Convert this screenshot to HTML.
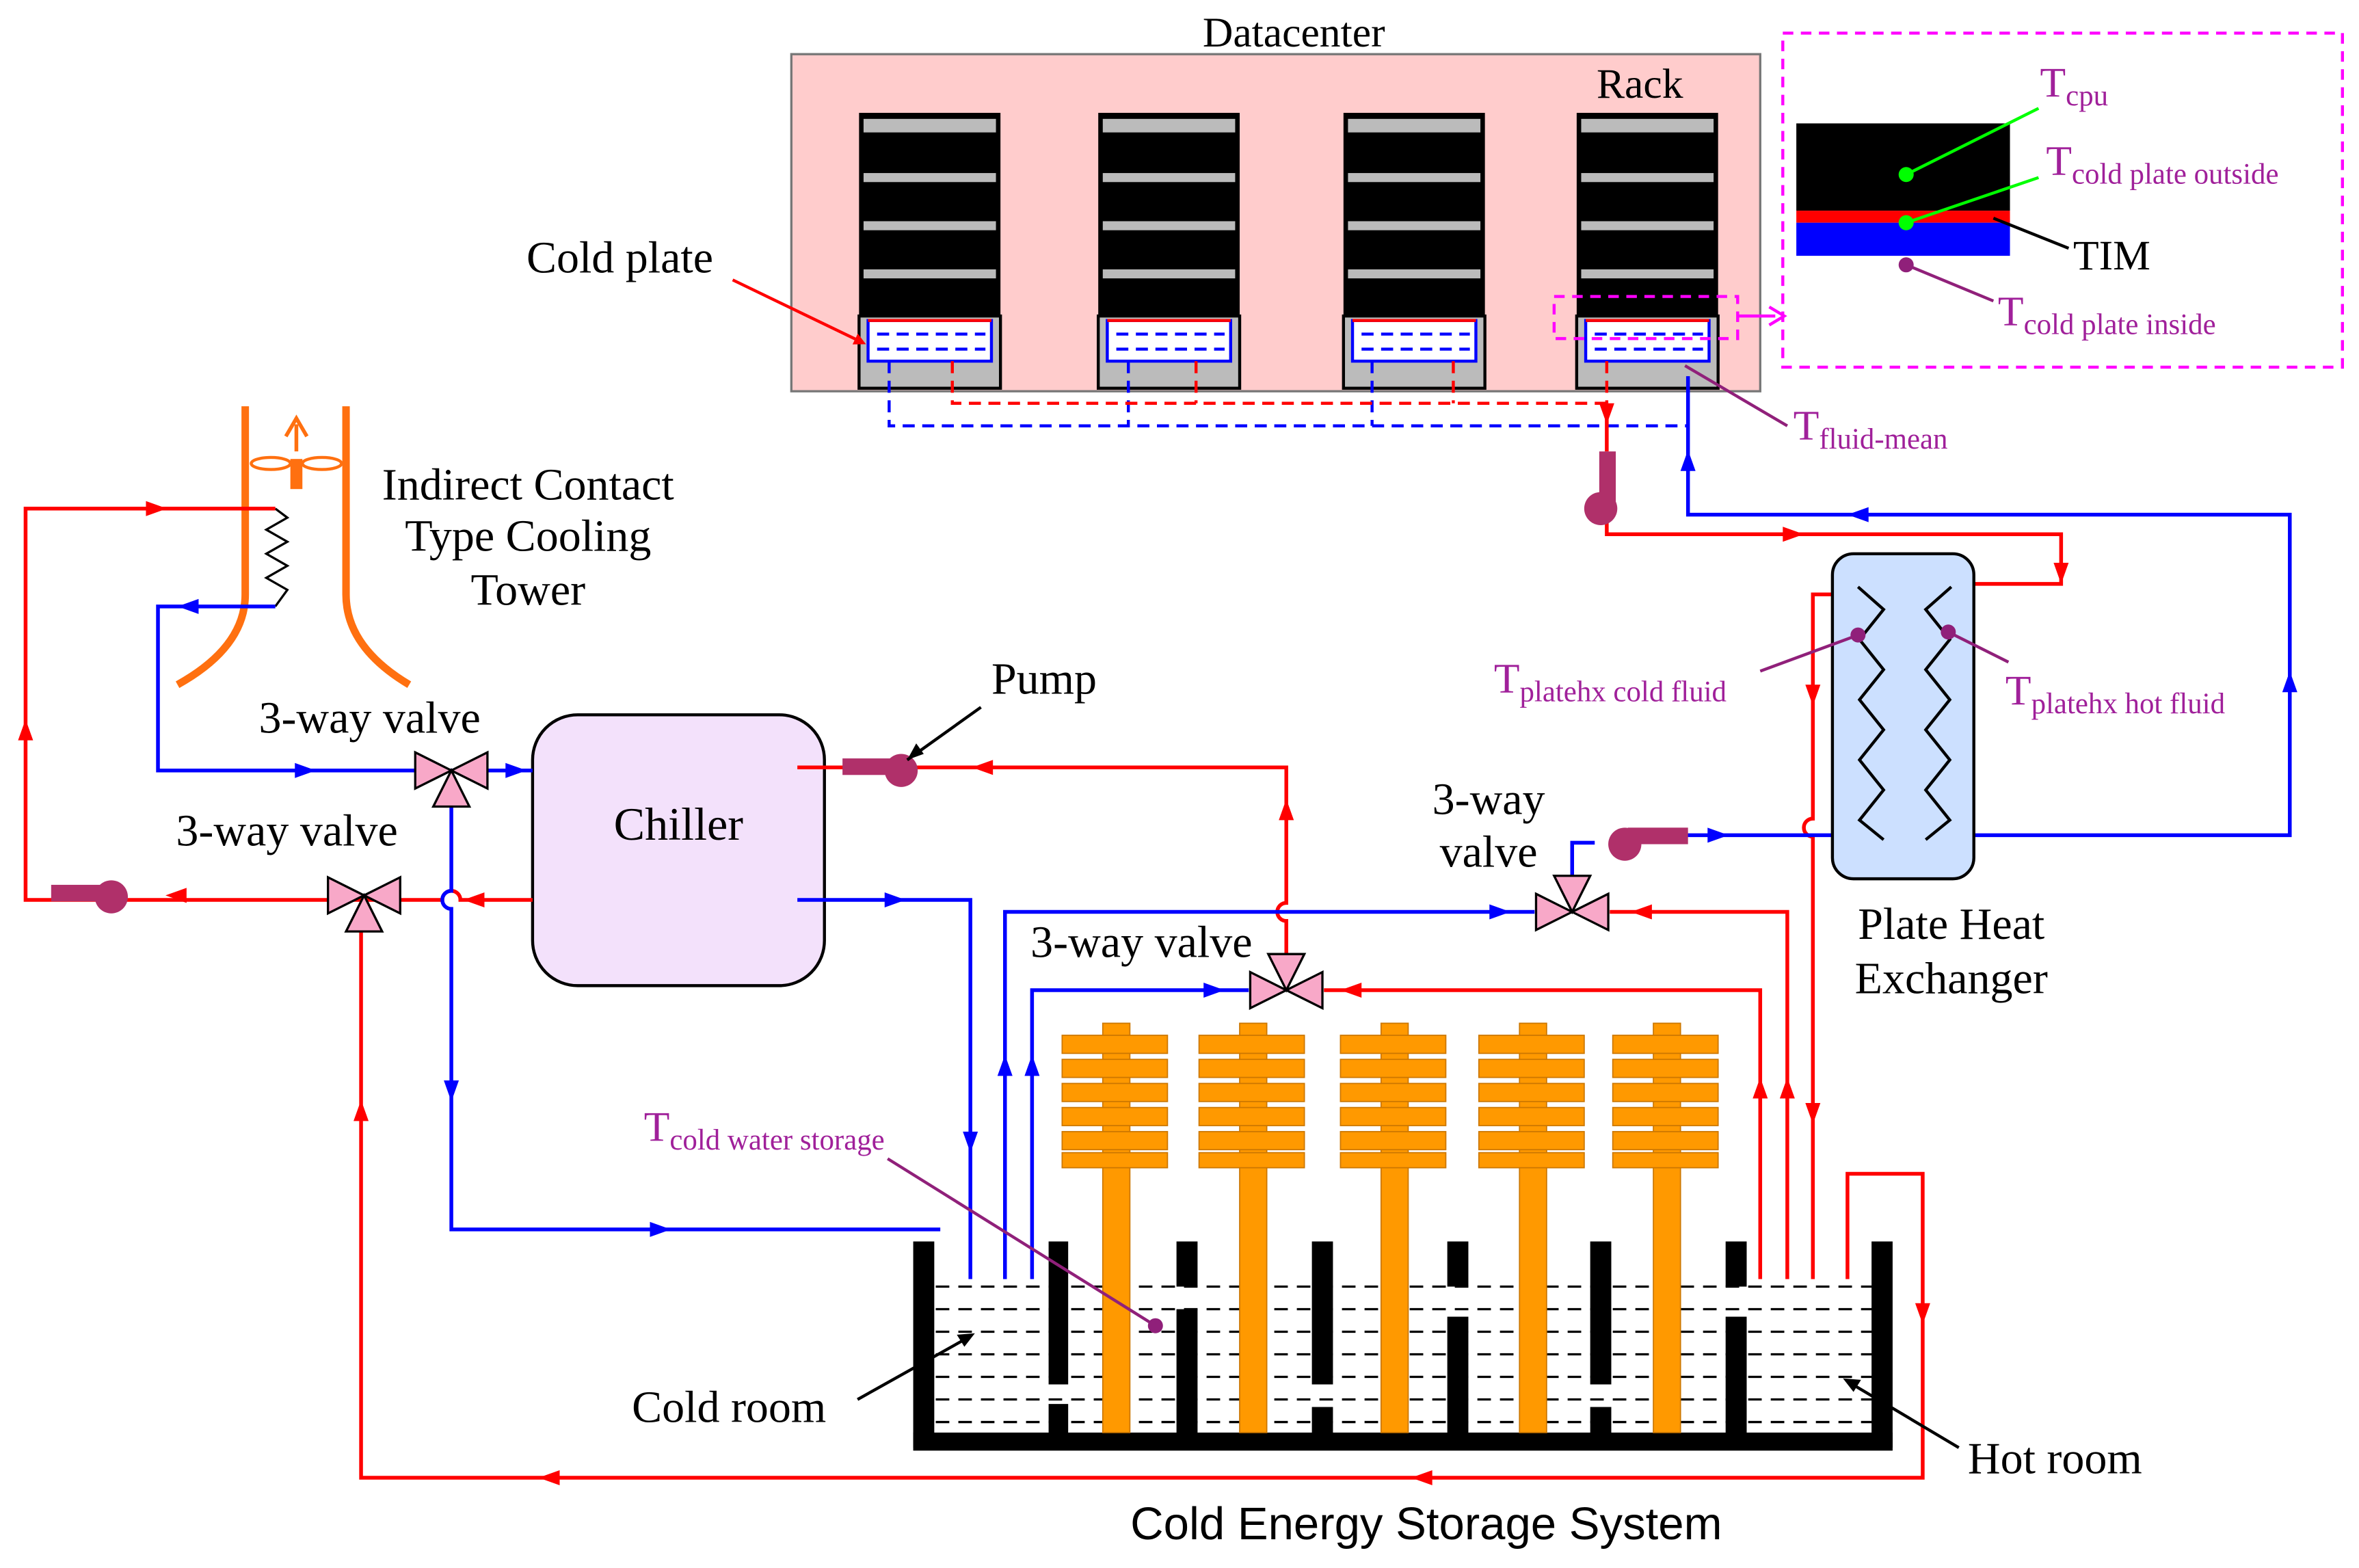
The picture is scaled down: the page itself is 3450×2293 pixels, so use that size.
<!DOCTYPE html>
<html><head><meta charset="utf-8"><style>
html,body{margin:0;padding:0;background:#fff}
svg{display:block}
text{font-family:"Liberation Serif",serif}
</style></head><body>
<svg width="3450" height="2293" viewBox="0 0 1568 1042" preserveAspectRatio="none" xmlns="http://www.w3.org/2000/svg">
<defs>
<marker id="ar" markerWidth="8" markerHeight="8" refX="4" refY="4" orient="auto" markerUnits="userSpaceOnUse"><path d="M0,0 L8,4 L0,8 z" fill="red"/></marker>
</defs>
<!-- Datacenter -->
<text x="860" y="31" font-size="28" text-anchor="middle">Datacenter</text>
<rect x="526" y="36" width="644" height="224" fill="#ffcccc" stroke="#777" stroke-width="1.5"/>
<text x="1090" y="65" font-size="28" text-anchor="middle">Rack</text>
<g transform="translate(571,0)">
<rect x="0" y="75" width="94" height="137" fill="#000"/>
<rect x="3" y="79" width="88" height="9" fill="#bbb"/><rect x="3" y="115" width="88" height="6" fill="#bbb"/><rect x="3" y="147" width="88" height="6" fill="#bbb"/><rect x="3" y="179" width="88" height="6" fill="#bbb"/>
<rect x="0" y="210" width="94" height="48" fill="#bbb" stroke="#000" stroke-width="2"/>
<rect x="6" y="213" width="82" height="27" fill="#fff" stroke="#00f" stroke-width="2"/>
<line x1="6" y1="213" x2="88" y2="213" stroke="red" stroke-width="2"/>
<line x1="12" y1="222" x2="84" y2="222" stroke="#00f" stroke-width="2" stroke-dasharray="8,5"/>
<line x1="12" y1="232" x2="84" y2="232" stroke="#00f" stroke-width="2" stroke-dasharray="8,5"/>
</g>
<g transform="translate(730,0)">
<rect x="0" y="75" width="94" height="137" fill="#000"/>
<rect x="3" y="79" width="88" height="9" fill="#bbb"/><rect x="3" y="115" width="88" height="6" fill="#bbb"/><rect x="3" y="147" width="88" height="6" fill="#bbb"/><rect x="3" y="179" width="88" height="6" fill="#bbb"/>
<rect x="0" y="210" width="94" height="48" fill="#bbb" stroke="#000" stroke-width="2"/>
<rect x="6" y="213" width="82" height="27" fill="#fff" stroke="#00f" stroke-width="2"/>
<line x1="6" y1="213" x2="88" y2="213" stroke="red" stroke-width="2"/>
<line x1="12" y1="222" x2="84" y2="222" stroke="#00f" stroke-width="2" stroke-dasharray="8,5"/>
<line x1="12" y1="232" x2="84" y2="232" stroke="#00f" stroke-width="2" stroke-dasharray="8,5"/>
</g>
<g transform="translate(893,0)">
<rect x="0" y="75" width="94" height="137" fill="#000"/>
<rect x="3" y="79" width="88" height="9" fill="#bbb"/><rect x="3" y="115" width="88" height="6" fill="#bbb"/><rect x="3" y="147" width="88" height="6" fill="#bbb"/><rect x="3" y="179" width="88" height="6" fill="#bbb"/>
<rect x="0" y="210" width="94" height="48" fill="#bbb" stroke="#000" stroke-width="2"/>
<rect x="6" y="213" width="82" height="27" fill="#fff" stroke="#00f" stroke-width="2"/>
<line x1="6" y1="213" x2="88" y2="213" stroke="red" stroke-width="2"/>
<line x1="12" y1="222" x2="84" y2="222" stroke="#00f" stroke-width="2" stroke-dasharray="8,5"/>
<line x1="12" y1="232" x2="84" y2="232" stroke="#00f" stroke-width="2" stroke-dasharray="8,5"/>
</g>
<g transform="translate(1048,0)">
<rect x="0" y="75" width="94" height="137" fill="#000"/>
<rect x="3" y="79" width="88" height="9" fill="#bbb"/><rect x="3" y="115" width="88" height="6" fill="#bbb"/><rect x="3" y="147" width="88" height="6" fill="#bbb"/><rect x="3" y="179" width="88" height="6" fill="#bbb"/>
<rect x="0" y="210" width="94" height="48" fill="#bbb" stroke="#000" stroke-width="2"/>
<rect x="6" y="213" width="82" height="27" fill="#fff" stroke="#00f" stroke-width="2"/>
<line x1="6" y1="213" x2="88" y2="213" stroke="red" stroke-width="2"/>
<line x1="12" y1="222" x2="84" y2="222" stroke="#00f" stroke-width="2" stroke-dasharray="8,5"/>
<line x1="12" y1="232" x2="84" y2="232" stroke="#00f" stroke-width="2" stroke-dasharray="8,5"/>
</g>
<!-- rack piping -->
<g fill="none" stroke-width="2" stroke-dasharray="8,5">
<path d="M591,240 V283 H1122 M750,240 V283 M912,240 V283" stroke="#00f"/>
<path d="M633,240 V268 H1068 M795,240 V268 M966,240 V268 M1068,240 V268" stroke="red"/>
</g>
<!-- magenta -->
<rect x="1033" y="197" width="122" height="28" fill="none" stroke="#f0f" stroke-width="2" stroke-dasharray="7,5"/>
<path d="M1155,210 H1180" stroke="#f0f" stroke-width="2"/><path d="M1176,204 L1186,210 L1176,216" fill="none" stroke="#f0f" stroke-width="2"/>
<rect x="1185" y="22" width="372" height="222" fill="none" stroke="#f0f" stroke-width="2" stroke-dasharray="7,5"/>
<rect x="1194" y="82" width="142" height="58" fill="#000"/>
<rect x="1194" y="140" width="142" height="8" fill="red"/>
<rect x="1194" y="148" width="142" height="22" fill="#00f"/>
<line x1="1267" y1="116" x2="1355" y2="72" stroke="#0f0" stroke-width="2"/>
<line x1="1267" y1="148" x2="1355" y2="118" stroke="#0f0" stroke-width="2"/>
<line x1="1325" y1="145" x2="1375" y2="165" stroke="#000" stroke-width="2"/>
<line x1="1267" y1="176" x2="1325" y2="200" stroke="#90207a" stroke-width="2"/>
<circle cx="1267" cy="116" r="5" fill="#0f0"/><circle cx="1267" cy="148" r="5" fill="#0f0"/><circle cx="1267" cy="176" r="5" fill="#90207a"/>
<g fill="#a0209a">
<text x="1356" y="64" font-size="28">T<tspan font-size="19.5" dy="6">cpu</tspan></text>
<text x="1360" y="116" font-size="28">T<tspan font-size="19.5" dy="6">cold plate outside</tspan></text>
<text x="1328" y="216" font-size="28">T<tspan font-size="19.5" dy="6">cold plate inside</tspan></text>
<text x="1192" y="292" font-size="28">T<tspan font-size="19.5" dy="6">fluid-mean</tspan></text>
<text x="993" y="460" font-size="28">T<tspan font-size="19.5" dy="6">platehx cold fluid</tspan></text>
<text x="1333" y="468" font-size="28">T<tspan font-size="19.5" dy="6">platehx hot fluid</tspan></text>
<text x="428" y="758" font-size="28">T<tspan font-size="19.5" dy="6">cold water storage</tspan></text>
</g>
<text x="1378" y="179" font-size="28">TIM</text>
<line x1="1120" y1="243" x2="1188" y2="283" stroke="#90207a" stroke-width="2"/>
<!-- cold plate label -->
<text x="412" y="181" font-size="30" text-anchor="middle">Cold plate</text>
<line x1="487" y1="186" x2="572" y2="227" stroke="red" stroke-width="2" marker-end="url(#ar)"/>
<!-- cooling tower -->
<g fill="none" stroke="#ff7010" stroke-width="5">
<path d="M163,270 V395 Q163,430 118,455"/>
<path d="M230,270 V395 Q230,430 272,455"/>
</g>
<rect x="193" y="305" width="8" height="20" fill="#ff7010"/>
<ellipse cx="180" cy="308" rx="13" ry="4" fill="none" stroke="#ff7010" stroke-width="2"/>
<ellipse cx="214" cy="308" rx="13" ry="4" fill="none" stroke="#ff7010" stroke-width="2"/>
<path d="M197,300 V282 M190,290 L197,278 L204,290" fill="none" stroke="#ff7010" stroke-width="2.5"/>
<path d="M183,338 L191,344 L177,352 L191,360 L177,368 L191,376 L177,384 L191,392 L183,403" fill="none" stroke="#000" stroke-width="1.5"/>
<text x="351" y="332" font-size="30" text-anchor="middle">Indirect Contact</text>
<text x="351" y="366" font-size="30" text-anchor="middle">Type Cooling</text>
<text x="351" y="402" font-size="30" text-anchor="middle">Tower</text>
<!-- chiller -->
<rect x="354" y="475" width="194" height="180" rx="30" fill="#f3e1fb" stroke="#000" stroke-width="2"/>
<text x="451" y="558" font-size="31" text-anchor="middle">Chiller</text>
<!-- red pipes -->
<g fill="none" stroke="red" stroke-width="2.5">
<path d="M354,598 H306 A6,6 0 0 0 294,598 H17 V338 H183"/>
<path d="M240,612 V982 H1278 V780 H1228 V850"/>
<path d="M855,640 V612 A6,6 0 0 1 855,600 V510 H530"/>
<path d="M880,658 H1170 V850"/>
<path d="M1070,606 H1188 V850"/>
<path d="M1240,395 H1205 V544 A6,6 0 0 0 1205,556 V850"/>
<path d="M1068,268 V300 M1068,340 V355 H1370 V388 H1297"/>
</g>
<g fill="red">
<path d="M97,333 L111,338 L97,343z"/><path d="M12,492 L17,478 L22,492z"/>
<path d="M124,590 L110,595 L124,600z"/><path d="M322,593 L308,598 L322,603z"/>
<path d="M235,745 L240,731 L245,745z"/><path d="M372,977 L358,982 L372,987z"/><path d="M952,977 L938,982 L952,987z"/>
<path d="M1273,866 L1278,880 L1283,866z"/>
<path d="M660,505 L646,510 L660,515z"/><path d="M850,545 L855,531 L860,545z"/>
<path d="M905,653 L891,658 L905,663z"/><path d="M1165,730 L1170,716 L1175,730z"/>
<path d="M1098,601 L1084,606 L1098,611z"/><path d="M1183,730 L1188,716 L1193,730z"/>
<path d="M1200,455 L1205,469 L1210,455z"/><path d="M1200,733 L1205,747 L1210,733z"/>
<path d="M1063,268 L1068,282 L1073,268z"/><path d="M1185,350 L1199,355 L1185,360z"/><path d="M1365,374 L1370,388 L1375,374z"/>
</g>
<!-- blue pipes -->
<g fill="none" stroke="#00f" stroke-width="2.5">
<path d="M183,403 H105 V512 H354"/>
<path d="M300,530 V592 A6,6 0 0 0 300,604 V817 H625"/>
<path d="M530,598 H645 V850"/>
<path d="M1020,606 H668 V850"/>
<path d="M830,658 H686 V850"/>
<path d="M1240,555 H1100 M1060,560 H1045 V588"/>
<path d="M1312,555 H1522 V342 H1122 V250"/>
</g>
<g fill="#00f">
<path d="M118,398 L132,403 L118,408z" transform="rotate(180,125,403)"/>
<path d="M196,507 L210,512 L196,517z"/><path d="M336,507 L350,512 L336,517z"/>
<path d="M295,718 L300,732 L305,718z"/><path d="M432,812 L446,817 L432,822z"/>
<path d="M588,593 L602,598 L588,603z"/><path d="M640,752 L645,766 L650,752z"/>
<path d="M990,601 L1004,606 L990,611z"/><path d="M663,715 L668,701 L673,715z"/>
<path d="M800,653 L814,658 L800,663z"/><path d="M681,715 L686,701 L691,715z"/>
<path d="M1135,550 L1149,555 L1135,560z"/>
<path d="M1517,460 L1522,446 L1527,460z"/><path d="M1242,337 L1228,342 L1242,347z"/><path d="M1117,313 L1122,299 L1127,313z"/>
</g>
<!-- pumps -->
<g fill="#b0306a">
<rect x="34" y="588" width="38" height="11"/><circle cx="74" cy="596" r="11"/>
<rect x="560" y="504" width="38" height="11"/><circle cx="599" cy="512" r="11"/>
<rect x="1063" y="300" width="11" height="38"/><circle cx="1064" cy="338" r="11"/>
<rect x="1082" y="550" width="40" height="11"/><circle cx="1080" cy="561" r="11"/>
</g>
<!-- valves -->
<g fill="#f8a8c8" stroke="#000" stroke-width="1.5">
<path d="M276,500 L300,512 L276,524z M324,500 L300,512 L324,524z M288,536 L300,512 L312,536z"/>
<path d="M218,583 L242,595 L218,607z M266,583 L242,595 L266,607z M230,619 L242,595 L254,619z"/>
<path d="M831,646 L855,658 L831,670z M879,646 L855,658 L879,670z M843,634 L855,658 L867,634z"/>
<path d="M1021,594 L1045,606 L1021,618z M1069,594 L1045,606 L1069,618z M1033,582 L1045,606 L1057,582z"/>
</g>
<g font-size="30">
<text x="172" y="487">3-way valve</text>
<text x="117" y="562">3-way valve</text>
<text x="685" y="636">3-way valve</text>
<text x="952" y="541">3-way</text><text x="957" y="576">valve</text>
<text x="659" y="461">Pump</text>
<text x="1297" y="624" text-anchor="middle">Plate Heat</text>
<text x="1297" y="660" text-anchor="middle">Exchanger</text>
<text x="420" y="945">Cold room</text>
<text x="1308" y="979">Hot room</text>
</g>
<line x1="652" y1="470" x2="603" y2="505" stroke="#000" stroke-width="2"/><path d="M603,505 L609,494 L614,501z" fill="#000"/>
<!-- PHE -->
<rect x="1218" y="368" width="94" height="216" rx="14" fill="#cce0ff" stroke="#000" stroke-width="2"/>
<g fill="none" stroke="#000" stroke-width="2">
<path d="M1235,390 L1252,405 L1236,425 L1252,445 L1236,465 L1252,485 L1236,505 L1252,525 L1236,545 L1252,558"/>
<path d="M1297,390 L1280,405 L1296,425 L1280,445 L1296,465 L1280,485 L1296,505 L1280,525 L1296,545 L1280,558"/>
</g>
<line x1="1170" y1="446" x2="1235" y2="422" stroke="#90207a" stroke-width="2"/>
<line x1="1295" y1="420" x2="1335" y2="440" stroke="#90207a" stroke-width="2"/>
<circle cx="1235" cy="422" r="5" fill="#90207a"/><circle cx="1295" cy="420" r="5" fill="#90207a"/>
<!-- tank -->
<g stroke="#000" stroke-width="1.5" stroke-dasharray="9,6">
<line x1="622" y1="855" x2="1245" y2="855"/><line x1="622" y1="870" x2="1245" y2="870"/>
<line x1="622" y1="885" x2="1245" y2="885"/><line x1="622" y1="900" x2="1245" y2="900"/>
<line x1="622" y1="915" x2="1245" y2="915"/><line x1="622" y1="930" x2="1245" y2="930"/>
<line x1="622" y1="945" x2="1245" y2="945"/>
</g>
<g fill="#000">
<rect x="607" y="825" width="14" height="137"/><rect x="607" y="952" width="651" height="12"/><rect x="1244" y="825" width="14" height="137"/>
<rect x="697" y="825" width="13" height="95"/><rect x="697" y="933" width="13" height="20"/>
<rect x="782" y="825" width="14" height="30"/><rect x="782" y="870" width="14" height="83"/>
<rect x="872" y="825" width="14" height="95"/><rect x="872" y="935" width="14" height="18"/>
<rect x="962" y="825" width="14" height="30"/><rect x="962" y="875" width="14" height="78"/>
<rect x="1057" y="825" width="14" height="95"/><rect x="1057" y="935" width="14" height="18"/>
<rect x="1147" y="825" width="14" height="30"/><rect x="1147" y="875" width="14" height="78"/>
</g>
<g fill="#ff9900" stroke="#cc7700" stroke-width="0.8">
<g id="f1"><rect x="733" y="680" width="18" height="272"/>
<rect x="706" y="688" width="70" height="12"/><rect x="706" y="704" width="70" height="12"/><rect x="706" y="720" width="70" height="12"/><rect x="706" y="736" width="70" height="12"/><rect x="706" y="752" width="70" height="12"/><rect x="706" y="766" width="70" height="10"/></g>
<use href="#f1" x="91"/><use href="#f1" x="185"/><use href="#f1" x="277"/><use href="#f1" x="366"/>
</g>
<line x1="590" y1="770" x2="768" y2="881" stroke="#90207a" stroke-width="2"/><circle cx="768" cy="881" r="5" fill="#90207a"/>
<line x1="570" y1="930" x2="645" y2="888" stroke="#000" stroke-width="2"/><path d="M648,886 L636,887 L641,895z" fill="#000"/>
<line x1="1302" y1="962" x2="1228" y2="918" stroke="#000" stroke-width="2"/><path d="M1225,916 L1237,917 L1232,925z" fill="#000"/>
<text x="948" y="1023" font-size="30.5" text-anchor="middle" style="font-family:'Liberation Sans',sans-serif">Cold Energy Storage System</text>
</svg>
</body></html>
